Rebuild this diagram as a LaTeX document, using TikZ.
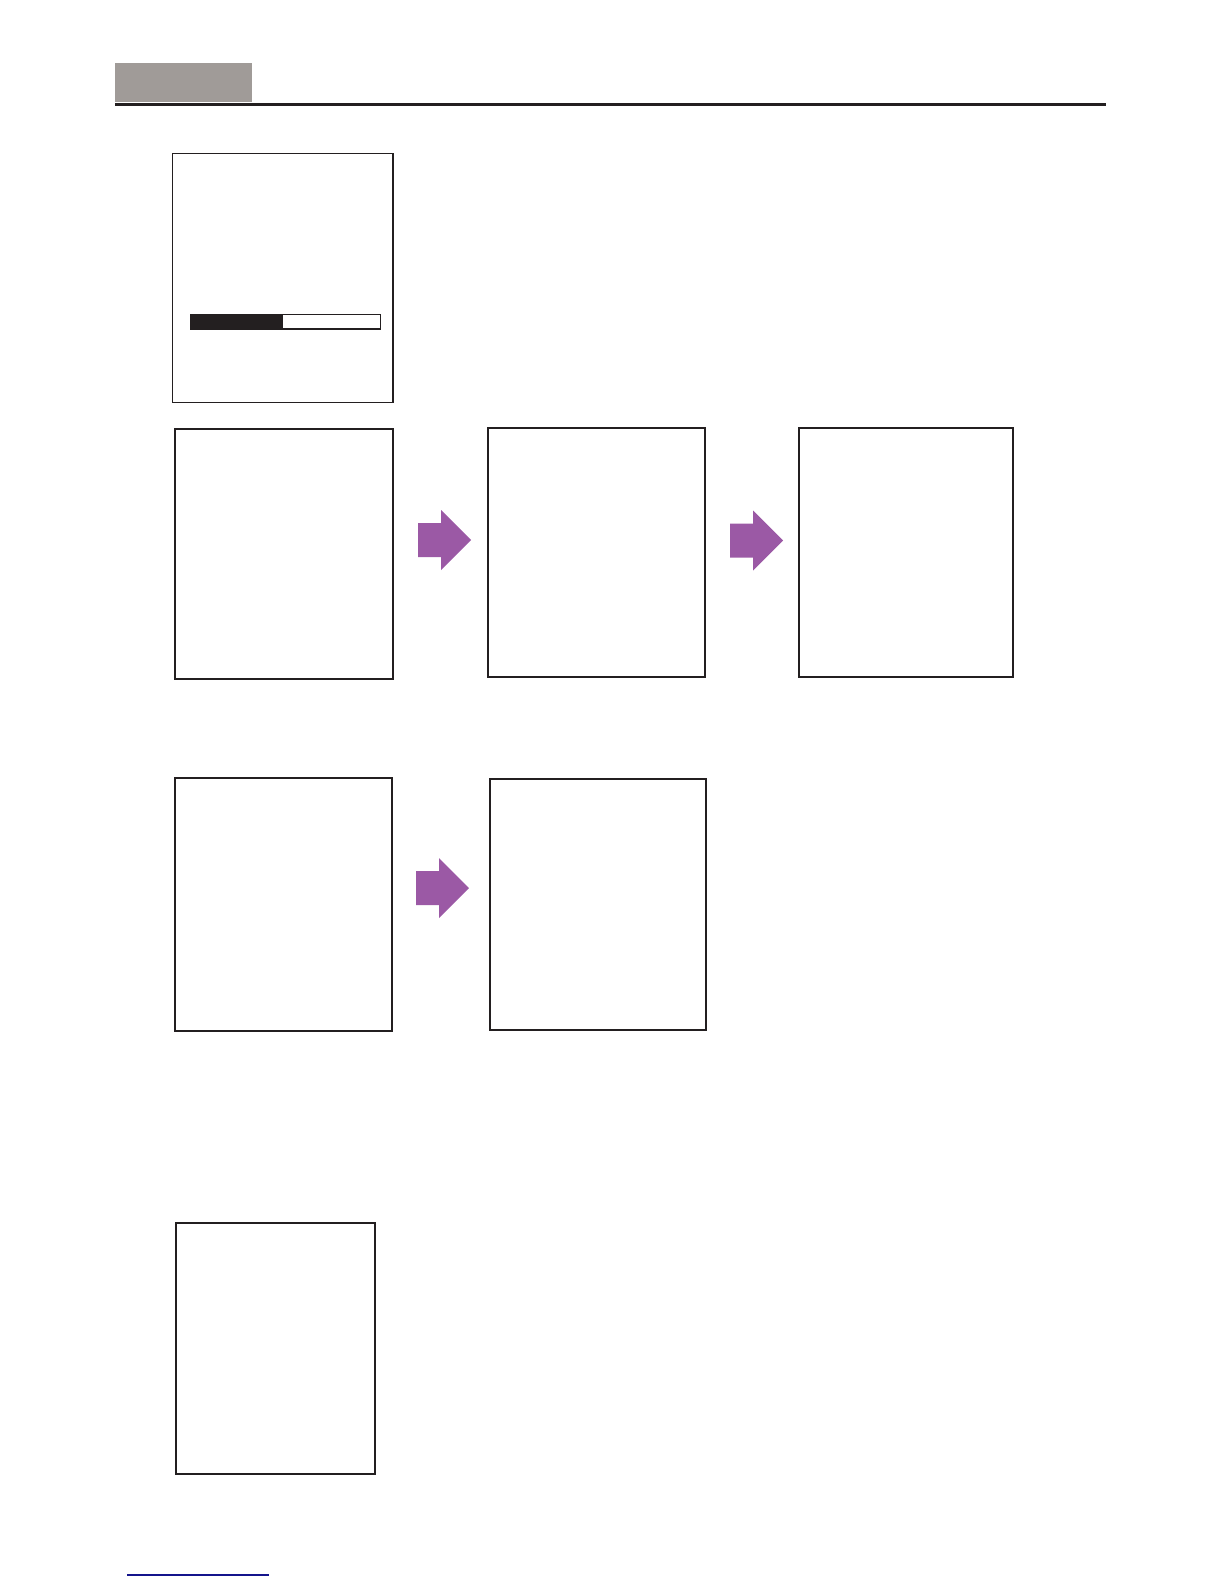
\documentclass[tikz,border=0pt]{standalone}
\usepackage{tikz}

\definecolor{ink}{RGB}{35,31,32}
\definecolor{tabgray}{RGB}{160,155,152}
\definecolor{flowpurple}{RGB}{155,89,165}
\definecolor{linkblue}{RGB}{20,20,140}

\tikzset{
    screen/.style={draw=ink, line width=1pt},
    pics/flow/.style={code={
        \fill[flowpurple](0, -17)--(23, -17)--(23, -30)--(53, 0)--(23, 30)--(23, 17)--(0, 17)--cycle;
    }}
}

\begin{document}
\begin{tikzpicture}[x=0.5pt, y=-0.5pt]
    \useasboundingbox (0, 0) rectangle (1224, 1584);
    \fill[tabgray](115, 63)rectangle(252, 102);
    \draw[ink, line width=1.3pt](115, 104.5)--(1106, 104.5);
    \draw[screen, line width=0.6pt](172.5, 153.5)rectangle(393, 402.5);
    \draw[ink, line width=0.8pt](191, 314.5)rectangle(380.5, 329);
    \fill[ink](191, 314)rectangle(282.5, 330);
    \draw[screen](175, 429)rectangle(393, 679);
    \draw[screen](487.5, 428)rectangle(705, 676.5);
    \draw[screen](799, 427.5)rectangle(1013, 677);
    \pic at (418, 540) {flow};
    \pic at (730, 540.5) {flow};
    \draw[screen](175, 777.5)rectangle(392, 1031);
    \draw[screen](489.5, 779)rectangle(706, 1030);
    \pic at (416, 888) {flow};
    \draw[screen](176, 1222.5)rectangle(375, 1474);
    \draw[linkblue, line width=0.6pt](127, 1575)--(269, 1575);
\end{tikzpicture}
\end{document}
